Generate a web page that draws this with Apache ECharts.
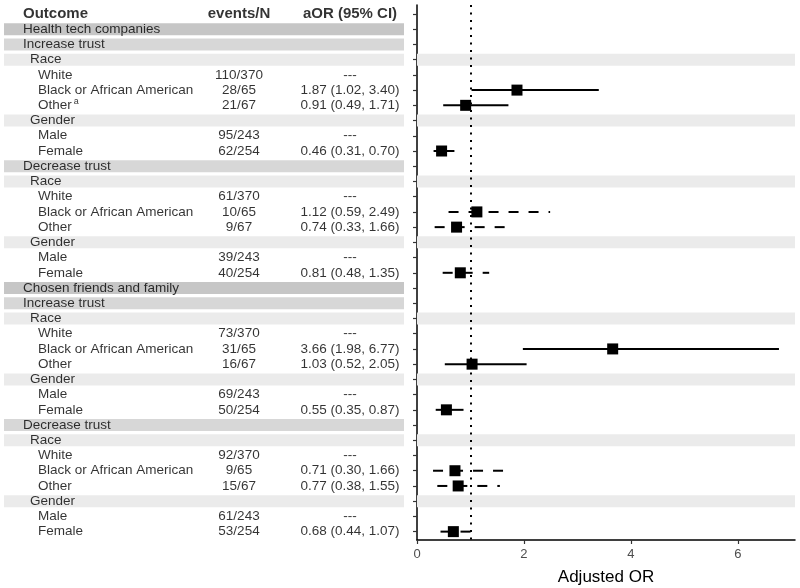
<!DOCTYPE html>
<html>
<head>
<meta charset="utf-8">
<script src="https://cdn.jsdelivr.net/npm/echarts@6/dist/echarts.min.js"></script>
<style>
html, body { margin: 0; padding: 0; background: #fff; }
#chart { width: 800px; height: 588px; }
</style>
</head>
<body>
<div id="chart"></div>
<script>
// table rows (header row is added on top)
var labels = ['Health tech companies', 'Increase trust', 'Race', 'White', 'Black or African American', 'Other', 'Gender', 'Male', 'Female',
  'Decrease trust', 'Race', 'White', 'Black or African American', 'Other', 'Gender', 'Male', 'Female',
  'Chosen friends and family', 'Increase trust', 'Race', 'White', 'Black or African American', 'Other', 'Gender', 'Male', 'Female',
  'Decrease trust', 'Race', 'White', 'Black or African American', 'Other', 'Gender', 'Male', 'Female'];
var levels = [0, 1, 2, 3, 3, 3, 2, 3, 3, 1, 2, 3, 3, 3, 2, 3, 3,
  0, 1, 2, 3, 3, 3, 2, 3, 3, 1, 2, 3, 3, 3, 2, 3, 3];
var footnotes = { 5: 'a' };
var events = ['', '', '', '110/370', '28/65', '21/67', '', '95/243', '62/254',
  '', '', '61/370', '10/65', '9/67', '', '39/243', '40/254',
  '', '', '', '73/370', '31/65', '16/67', '', '69/243', '50/254',
  '', '', '92/370', '9/65', '15/67', '', '61/243', '53/254'];
var aor = [null, null, null, null, 1.87, 0.91, null, null, 0.46,
  null, null, null, 1.12, 0.74, null, null, 0.81,
  null, null, null, null, 3.66, 1.03, null, null, 0.55,
  null, null, null, 0.71, 0.77, null, null, 0.68];
var lower = [null, null, null, null, 1.02, 0.49, null, null, 0.31,
  null, null, null, 0.59, 0.33, null, null, 0.48,
  null, null, null, null, 1.98, 0.52, null, null, 0.35,
  null, null, null, 0.30, 0.38, null, null, 0.44];
var upper = [null, null, null, null, 3.40, 1.71, null, null, 0.70,
  null, null, null, 2.49, 1.66, null, null, 1.35,
  null, null, null, null, 6.77, 2.05, null, null, 0.87,
  null, null, null, 1.66, 1.55, null, null, 1.07];
var headers = ['Outcome', 'events/N', 'aOR (95% CI)'];
var xTicks = [0, 2, 4, 6];

var FONT = "'Liberation Sans', Arial, sans-serif";
var XMAX = 7.07;
var TW = 400; // table width in its own axis units (px)
var YMIN = -0.59, YMAX = 34.55;

var rowTicks = [];
for (var i = 0; i <= labels.length; i++) rowTicks.push(i);

var bandColors = ['#c6c6c6', '#d7d7d7', '#ebebeb'];
var indent = [19, 19, 26, 34];

var tableBands = [], plotBands = [], texts = [], ciData = [], pts = [];
texts.push({ value: [indent[0], 0], label: { formatter: headers[0], fontWeight: 'bold', fontSize: 15 } });
texts.push({ value: [235, 0], label: { formatter: headers[1], fontWeight: 'bold', fontSize: 15, align: 'center' } });
texts.push({ value: [346, 0], label: { formatter: headers[2], fontWeight: 'bold', fontSize: 15, align: 'center' } });

var dashed = false;
labels.forEach(function (lab, k) {
  var row = k + 1;
  var lv = levels[k];
  if (lv === 1) dashed = lab.indexOf('Decrease') === 0;
  if (lv < 3) tableBands.push([0, row, TW, lv]);
  if (lv === 2) plotBands.push([0, row, XMAX, lv]);
  var txt = footnotes[k] ? lab + '{sup|' + footnotes[k] + '}' : lab;
  texts.push({ value: [indent[lv], row], label: { formatter: txt } });
  if (events[k]) {
    texts.push({ value: [235, row], label: { formatter: events[k], align: 'center' } });
    var s = aor[k] == null ? '---' :
      aor[k].toFixed(2) + ' (' + lower[k].toFixed(2) + ', ' + upper[k].toFixed(2) + ')';
    texts.push({ value: [346, row], label: { formatter: s, align: 'center' } });
  }
  if (aor[k] != null) {
    ciData.push([lower[k], row, upper[k], dashed ? 1 : 0]);
    pts.push([aor[k], row]);
  }
});

function renderBand(params, api) {
  var a = api.coord([api.value(0), api.value(1)]);
  var b = api.coord([api.value(2), api.value(1)]);
  return {
    type: 'rect',
    shape: { x: a[0], y: a[1] - 6, width: b[0] - a[0], height: 12 },
    style: { fill: bandColors[api.value(3)] }
  };
}

var chart = echarts.init(document.getElementById('chart'));
chart.setOption({
  backgroundColor: '#fff',
  animation: false,
  textStyle: { fontFamily: FONT },
  grid: [
    { left: 4, width: TW, top: 5, bottom: 48, containLabel: false, outerBoundsMode: 'none' },
    { left: 417, right: 5, top: 5, bottom: 48, containLabel: false, outerBoundsMode: 'none' }
  ],
  xAxis: [
    { gridIndex: 0, type: 'value', min: 0, max: TW, show: false },
    {
      gridIndex: 1, type: 'value', min: 0, max: XMAX, interval: 2,
      axisLine: { onZero: false, lineStyle: { color: '#000', width: 1.5 } },
      axisTick: { show: true, length: 4, customValues: xTicks, lineStyle: { color: '#333', width: 1.2 } },
      axisLabel: { color: '#4d4d4d', fontSize: 13, margin: 8, fontFamily: FONT, customValues: xTicks },
      splitLine: { show: false },
      name: 'Adjusted OR', nameLocation: 'middle', nameGap: 29,
      nameTextStyle: { color: '#000', fontSize: 17, fontFamily: FONT }
    }
  ],
  yAxis: [
    { gridIndex: 0, type: 'value', min: YMIN, max: YMAX, inverse: true, show: false },
    {
      gridIndex: 1, type: 'value', min: YMIN, max: YMAX, inverse: true,
      axisLine: { show: true, onZero: false, lineStyle: { color: '#000', width: 1.5 } },
      axisTick: { show: true, length: 4, customValues: rowTicks, lineStyle: { color: '#333', width: 1.2 } },
      axisLabel: { show: false },
      splitLine: { show: false }
    }
  ],
  series: [
    {
      type: 'custom', xAxisIndex: 0, yAxisIndex: 0, data: tableBands, z: 1,
      silent: true, renderItem: renderBand
    },
    {
      type: 'custom', xAxisIndex: 1, yAxisIndex: 1, data: plotBands, z: 1,
      silent: true, renderItem: renderBand
    },
    {
      type: 'scatter', xAxisIndex: 0, yAxisIndex: 0, data: texts,
      symbolSize: 0, silent: true, z: 3,
      label: {
        show: true, position: [0, 0], align: 'left', verticalAlign: 'middle',
        color: '#000', fontSize: 13.5, fontFamily: FONT,
        rich: { sup: { fontSize: 9, verticalAlign: 'top', padding: [0, 0, 7, 2], fontFamily: FONT, color: '#000' } }
      }
    },
    {
      type: 'custom', xAxisIndex: 1, yAxisIndex: 1, data: ciData, z: 4,
      encode: { x: [0, 2], y: 1 },
      renderItem: function (params, api) {
        var a = api.coord([api.value(0), api.value(1)]);
        var b = api.coord([api.value(2), api.value(1)]);
        return {
          type: 'line',
          shape: { x1: a[0], y1: a[1], x2: b[0], y2: b[1] },
          style: { stroke: '#000', lineWidth: 2, lineDash: api.value(3) ? [10, 10] : null }
        };
      }
    },
    {
      type: 'scatter', xAxisIndex: 1, yAxisIndex: 1, data: pts, z: 5,
      symbol: 'rect', symbolSize: 11, itemStyle: { color: '#000', opacity: 1 }, silent: true,
      markLine: {
        silent: true, symbol: ['none', 'none'], label: { show: false },
        lineStyle: { color: '#000', width: 2, type: [2, 5.5] },
        data: [{ xAxis: 1 }]
      }
    }
  ]
});
</script>
</body>
</html>
